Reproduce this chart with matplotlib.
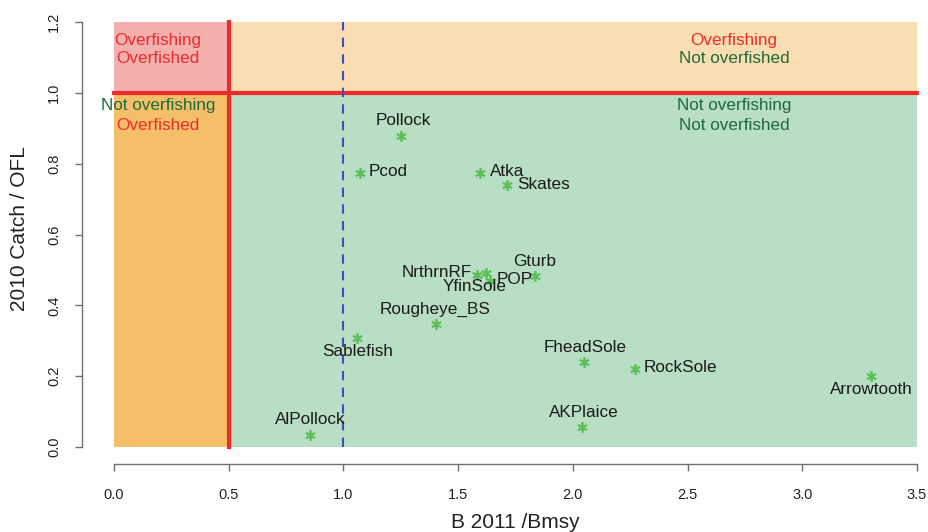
import matplotlib
matplotlib.use("Agg")
import matplotlib.pyplot as plt
from matplotlib.patches import Rectangle

plt.rcParams['font.family'] = ['Liberation Sans', 'DejaVu Sans']

# stock status values
species = ["Pollock", "Pcod", "Atka", "Skates", "NrthrnRF", "YfinSole", "POP",
           "Gturb", "Rougheye_BS", "Sablefish", "AlPollock", "FheadSole",
           "RockSole", "Arrowtooth", "AKPlaice"]
b_ratio = [1.25, 1.07, 1.595, 1.713, 1.582, 1.622, 1.639,
           1.835, 1.404, 1.059, 0.854, 2.049, 2.271, 3.30, 2.04]
catch_ofl = [0.879, 0.775, 0.775, 0.741, 0.485, 0.490, 0.470,
             0.482, 0.346, 0.307, 0.034, 0.239, 0.220, 0.200, 0.056]

# thresholds
b_limit = 0.5
b_msy = 1.0
ofl_limit = 1.0
x_max = 3.5
y_max = 1.2

# label placement (pixel offsets, ha) like R's pos=
label_off = {
    "Pollock": (2, 15, "center"), "Pcod": (9, 1, "left"), "Atka": (10, 1, "left"),
    "Skates": (10, 0, "left"), "NrthrnRF": (-5, 3, "right"),
    "YfinSole": (-11, -13, "center"), "POP": (7, 1, "left"),
    "Gturb": (0, 15, "center"), "Rougheye_BS": (-1, 15, "center"),
    "Sablefish": (1, -13, "center"), "AlPollock": (0, 15, "center"),
    "FheadSole": (1, 15, "center"), "RockSole": (9, 2, "left"),
    "Arrowtooth": (0, -13, "center"), "AKPlaice": (2, 15, "center"),
}

red = "#EE2B2B"
dkgreen = "#1D6B38"

fig = plt.figure(figsize=(9.29, 5.32), dpi=100)
ax = fig.add_axes([82/929, 68/532, 867/929, 459/532])
ax.set_xlim(-0.14, 3.64)
ax.set_ylim(-0.048, 1.248)

# quadrants
ax.add_patch(Rectangle((0, ofl_limit), b_limit, y_max-ofl_limit, fc="#F4AFAF", ec="none"))
ax.add_patch(Rectangle((b_limit, ofl_limit), x_max-b_limit, y_max-ofl_limit, fc="#FADDB2", ec="none"))
ax.add_patch(Rectangle((0, 0), b_limit, ofl_limit, fc="#F5BE69", ec="none"))
ax.add_patch(Rectangle((b_limit, 0), x_max-b_limit, ofl_limit, fc="#B8DEC3", ec="none"))

ax.plot([0, x_max], [ofl_limit, ofl_limit], color=red, lw=3)
ax.plot([b_limit, b_limit], [0, y_max], color=red, lw=3)
ax.plot([b_msy, b_msy], [0, y_max], color="#3B4FC0", lw=1.5, ls=(0, (4.5, 3.5)))

ax.text(0.192, 1.149, "Overfishing", color=red, ha="center", va="center", fontsize=12.3)
ax.text(0.192, 1.096, "Overfished", color=red, ha="center", va="center", fontsize=12.3)
ax.text(2.703, 1.149, "Overfishing", color=red, ha="center", va="center", fontsize=12.3)
ax.text(2.703, 1.096, "Not overfished", color=dkgreen, ha="center", va="center", fontsize=12.3)
ax.text(0.192, 0.963, "Not overfishing", color=dkgreen, ha="center", va="center", fontsize=12.3)
ax.text(0.192, 0.907, "Overfished", color=red, ha="center", va="center", fontsize=12.3)
ax.text(2.703, 0.963, "Not overfishing", color=dkgreen, ha="center", va="center", fontsize=12.3)
ax.text(2.703, 0.907, "Not overfished", color=dkgreen, ha="center", va="center", fontsize=12.3)

ax.plot(b_ratio, catch_ofl, ls="none", marker=(6, 2, 0), ms=7.5, mew=1.3,
        color="#5CBF5A")
for name, x, y in zip(species, b_ratio, catch_ofl):
    dx, dy, ha = label_off[name]
    ax.annotate(name, (x, y), xytext=(dx, dy), textcoords="offset pixels",
                ha=ha, va="center", fontsize=12.3, color="#1a1a1a")

# R style axes
for s in ["top", "right"]:
    ax.spines[s].set_visible(False)
ax.spines["left"].set_bounds(0, 1.2)
ax.spines["bottom"].set_bounds(0, 3.5)
for s in ["left", "bottom"]:
    ax.spines[s].set_color("#707070")
    ax.spines[s].set_linewidth(1.0)
ax.set_xticks([0, 0.5, 1.0, 1.5, 2.0, 2.5, 3.0, 3.5])
ax.set_xticklabels(["0.0", "0.5", "1.0", "1.5", "2.0", "2.5", "3.0", "3.5"])
ax.set_yticks([0, 0.2, 0.4, 0.6, 0.8, 1.0, 1.2])
ax.set_yticklabels(["0.0", "0.2", "0.4", "0.6", "0.8", "1.0", "1.2"],
                   rotation=90, va="center")
ax.tick_params(length=5, width=1.0, color="#707070", labelsize=10.5,
               labelcolor="#222222")
ax.tick_params(axis="x", pad=12)
ax.tick_params(axis="y", pad=10)

ax.set_xlabel("B 2011 /Bmsy", fontsize=15, color="#222222")
ax.xaxis.set_label_coords(433/867, -58/459)
ax.xaxis.label.set_va("center")
ax.set_ylabel("2010 Catch / OFL", fontsize=15, color="#222222")
ax.yaxis.set_label_coords(-63/867, 235/459)
ax.yaxis.label.set_va("center")

plt.savefig("out.png", dpi=100)
